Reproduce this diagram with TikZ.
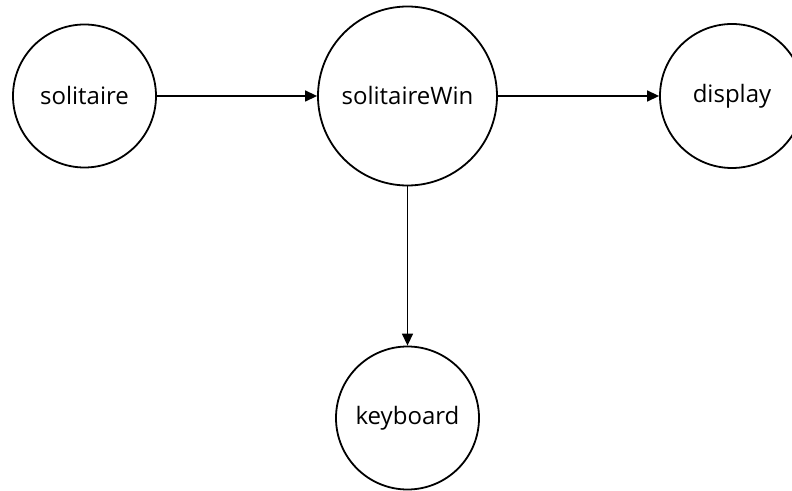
\documentclass[tikz,border=0pt]{standalone}
\usepackage{fontspec}
\setmainfont{Open Sans}
\usetikzlibrary{arrows.meta}

\begin{document}
\begin{tikzpicture}[x=1pt, y=1pt, -{Triangle[length=12pt,width=11pt]}, line width=1.4pt,
      every node/.append style={font=\fontsize{24}{28}\selectfont}]
    \tikzstyle{module} = [circle,draw,line width=1.8pt,inner sep=0pt]
    \useasboundingbox (0,0) rectangle (792,490);
    \node (solitaire) [module,minimum size=143pt] at (84.5,394) {solitaire};
    \node (solitaireWin) [module,minimum size=179pt] at (407.5,394) {solitaireWin};
    \node (display) [module,minimum size=144pt] at (732,394) {display};
    \node (keyboard) [module,minimum size=143pt] at (407.5,72) {keyboard};
    \draw (solitaire) -- (solitaireWin);
    \draw (solitaireWin) -- (display);
    \draw (solitaireWin) -- (keyboard);
  \end{tikzpicture}
\end{document}
